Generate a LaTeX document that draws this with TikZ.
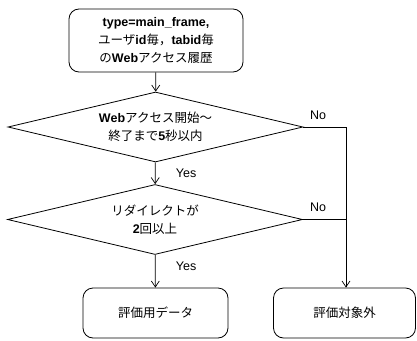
\documentclass[tikz,border=0pt]{standalone}
\usepackage{fontspec}
\setmainfont{Liberation Sans}
\newfontfamily\jp{Noto Sans CJK JP}
\usetikzlibrary{shapes.geometric,arrows.meta}
\begin{document}
\begin{tikzpicture}[x=1pt,y=-1pt,
  every node/.style={font=\fontsize{12.5}{18}\selectfont},
  box/.style={draw,rounded corners=10pt,line width=0.8pt,align=center,inner sep=0pt},
  dec/.style={draw,diamond,line width=0.8pt,align=center,inner sep=0pt,shape aspect=4.2,minimum width=295pt,minimum height=70pt},
  lbl/.style={font=\fontsize{12.5}{14}\selectfont},
  arr/.style={line width=0.7pt,-{Straight Barb[length=6pt,width=8pt]}},
  ln/.style={line width=0.7pt}]
\useasboundingbox (0,0) rectangle (417,340);
\node[box,minimum width=174pt,minimum height=63pt] (start) at (156,40.5)
  {\textbf{type=main\_frame,}\\{\jp ユーザ}\textbf{id}{\jp 毎，}\textbf{tabid}{\jp 毎}\\{\jp の}\textbf{Web}{\jp アクセス履歴}};
\node[dec] (d1) at (155.5,127) {\textbf{Web}{\jp アクセス開始～}\\{\jp 終了まで}\textbf{5}{\jp 秒以内}};
\node[dec] (d2) at (155,219.5) {{\jp リダイレクトが}\\\textbf{2}{\jp 回以上}};
\node[box,minimum width=145pt,minimum height=50pt] (eval) at (155.5,313) {\jp 評価用データ};
\node[box,minimum width=142pt,minimum height=50pt] (excl) at (344.5,313) {\jp 評価対象外};
\coordinate (c1) at (346,127);
\coordinate (c2) at (346,219.5);
\draw[arr] (start) -- (d1);
\draw[arr] (d1) -- (d2) node[lbl,midway,right=17pt] {Yes};
\draw[arr] (d2) -- (eval) node[lbl,pos=0.35,right=17pt] {Yes};
\draw[ln] (d1.east) -- (c1) -- (c2);
\draw[arr] (c2) -- (excl.north -| c2);
\draw[ln] (d2.east) -- (c2);
\node[lbl] (no1) at (318,115) {No};
\node[lbl] (no2) at (318,207) {No};
\end{tikzpicture}
\end{document}
